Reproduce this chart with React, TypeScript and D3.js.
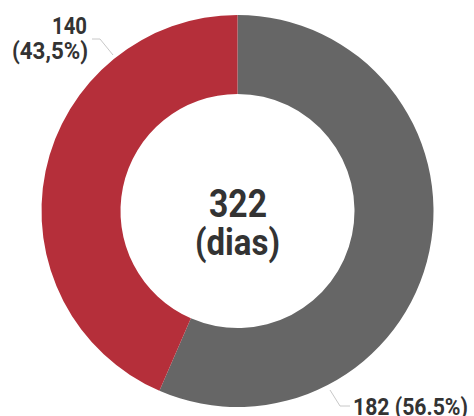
import React from "react";
import * as d3 from "d3";

const categories = ["182", "140"];
const values = [182, 140];
const labels = ["182 (56.5%)", "140\n(43,5%)"];
const centerTitle = "322";
const centerSub = "(dias)";
const colors = ["#666666", "#B52F3A"];

const W = 474;
const H = 416;
const cx = 237.5;
const cy = 211;
const outerR = 196;
const innerR = 117;
const FONT = "Roboto, 'DejaVu Sans', sans-serif";

export default function App() {
  const pie = d3.pie<number>().sort(null).value((d) => d);
  const arcs = pie(values);
  const arcGen = d3.arc<d3.PieArcDatum<number>>().innerRadius(innerR).outerRadius(outerR);
  const redLines = labels[1].split("\n");
  const common = { fontFamily: FONT, fontWeight: "bold" as const, fill: "#333333", lengthAdjust: "spacingAndGlyphs" };
  return (
    <svg width={W} height={H} style={{ position: "absolute", left: 0, top: 0 }}>
      <g transform={`translate(${cx},${cy})`}>
        {arcs.map((a, i) => (
          <path key={categories[i]} d={arcGen(a) || ""} fill={colors[i]} />
        ))}
      </g>
      <text x={209} y={217} fontSize={38} textLength={58} {...common}>
        {centerTitle}
      </text>
      <text x={195} y={255} fontSize={37} textLength={85} {...common}>
        {centerSub}
      </text>
      <polyline points="92,39 100,39 113,55" fill="none" stroke="#c8c8c8" strokeWidth={1} />
      <text x={52} y={34} fontSize={24} textLength={35} {...common}>
        {redLines[0]}
      </text>
      <text x={12} y={59} fontSize={23} textLength={76} {...common}>
        {redLines[1]}
      </text>
      <polyline points="330,390 340,406 350,406" fill="none" stroke="#c8c8c8" strokeWidth={1} />
      <text x={353} y={415} fontSize={24} textLength={115} {...common}>
        {labels[0]}
      </text>
    </svg>
  );
}
